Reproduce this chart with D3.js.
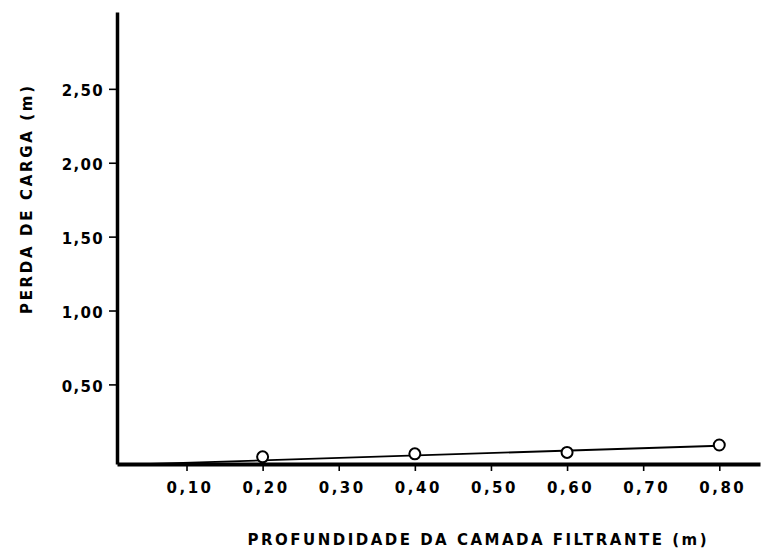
<!DOCTYPE html>
<html>
<head>
<meta charset="utf-8">
<script src="https://cdn.jsdelivr.net/npm/d3@7"></script>
<style>
  html, body { margin: 0; padding: 0; background: #fff; }
  svg { display: block; }
  text { font-family: "DejaVu Sans", sans-serif; fill: #000; }
</style>
</head>
<body>
<svg id="chart" width="762" height="550"></svg>
<script>
// ---- data ----
const depthValues = [0.20, 0.40, 0.60, 0.80];           // profundidade (m)
const headLossValues = [0.01, 0.03, 0.04, 0.09];        // perda de carga (m)
const fitLineX = [0.01, 0.80];                          // fitted line ends (x)
const fitLineY = [-0.045, 0.085];                       // fitted line ends (y)
const xTickValues = [0.10, 0.20, 0.30, 0.40, 0.50, 0.60, 0.70, 0.80];
const xTickLabels = ["0,10", "0,20", "0,30", "0,40", "0,50", "0,60", "0,70", "0,80"];
const yTickValues = [0.50, 1.00, 1.50, 2.00, 2.50];
const yTickLabels = ["0,50", "1,00", "1,50", "2,00", "2,50"];
const xTitle = "PROFUNDIDADE DA CAMADA FILTRANTE (m)";
const yTitle = "PERDA DE CARGA (m)";

// ---- scales ----
const svg = d3.select("#chart");
const x = d3.scaleLinear().domain([0.00867, 0.8535]).range([117, 760]);
const y = d3.scaleLinear().domain([-0.0386, 3.02]).range([464, 12]);

// ---- axes ----
const xAxis = d3.axisBottom(x)
  .tickValues(xTickValues)
  .tickFormat((d, i) => xTickLabels[i])
  .tickSizeInner(7).tickSizeOuter(0).tickPadding(11);
const gx = svg.append("g").attr("transform", `translate(0,${y.range()[0]})`).call(xAxis);
gx.select(".domain").attr("stroke", "#000").attr("stroke-width", 4);
gx.selectAll(".tick line").attr("stroke", "#000").attr("stroke-width", 1.6);
gx.selectAll(".tick text")
  .attr("font-size", 15).attr("font-weight", "bold").attr("letter-spacing", 2.5).attr("dx", 3)
  .attr("font-family", "DejaVu Sans").attr("fill", "#000");

const yAxis = d3.axisLeft(y)
  .tickValues(yTickValues)
  .tickFormat((d, i) => yTickLabels[i])
  .tickSizeInner(8).tickSizeOuter(0).tickPadding(5);
const gy = svg.append("g").attr("transform", `translate(${x.range()[0]},0)`).call(yAxis);
gy.select(".domain").attr("stroke", "#000").attr("stroke-width", 3.5);
gy.selectAll(".tick line").attr("stroke", "#000").attr("stroke-width", 1.6);
gy.selectAll(".tick text")
  .attr("font-size", 15).attr("font-weight", "bold").attr("letter-spacing", 1.3).attr("dy", "0.45em")
  .attr("font-family", "DejaVu Sans").attr("fill", "#000");

// ---- fitted line ----
const lineData = fitLineX.map((v, i) => [v, fitLineY[i]]);
svg.append("path")
  .datum(lineData)
  .attr("fill", "none").attr("stroke", "#000").attr("stroke-width", 1.8)
  .attr("d", d3.line().x(d => x(d[0])).y(d => y(d[1])));

// ---- points ----
svg.append("g").selectAll("circle")
  .data(depthValues.map((v, i) => [v, headLossValues[i]]))
  .join("circle")
  .attr("cx", d => x(d[0])).attr("cy", d => y(d[1]))
  .attr("r", 5.5).attr("fill", "#fff").attr("stroke", "#000").attr("stroke-width", 2);

// ---- titles ----
svg.append("text")
  .attr("x", 477).attr("y", 545)
  .attr("text-anchor", "middle")
  .attr("font-size", 15).attr("font-weight", "bold")
  .attr("textLength", 459).attr("lengthAdjust", "spacing")
  .text(xTitle);

svg.append("text")
  .attr("transform", "translate(32,200) rotate(-90)")
  .attr("text-anchor", "middle")
  .attr("font-size", 15).attr("font-weight", "bold")
  .attr("textLength", 228).attr("lengthAdjust", "spacing")
  .text(yTitle);
</script>
</body>
</html>
